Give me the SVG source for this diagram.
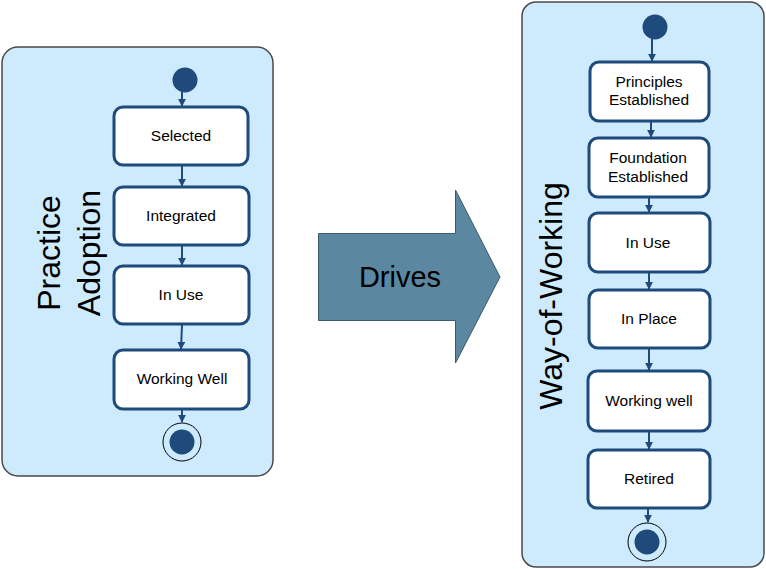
<svg xmlns="http://www.w3.org/2000/svg" width="766" height="569" viewBox="0 0 766 569">
<defs>
<style>
.cont{fill:#cdebfc;stroke:#4a4a4a;stroke-width:1.5}
.st{fill:#fff;stroke:#1f4a7c;stroke-width:3}
.lbl{font-family:"Liberation Sans",Arial,sans-serif;font-size:15.5px;fill:#000;text-anchor:middle}
.big{font-family:"Liberation Sans",Arial,sans-serif;font-size:32px;fill:#000;text-anchor:middle}
.dot{fill:#1f4a7c}
.ring{fill:none;stroke:#000;stroke-width:1}
.con{stroke:#1f4a7c;stroke-width:2;fill:none;marker-end:url(#ah)}
</style>
<marker id="ah" viewBox="0 0 10 10" refX="9" refY="5" markerWidth="4" markerHeight="4" orient="auto" markerUnits="strokeWidth">
<path d="M0,0 L10,5 L0,10 z" fill="#1f4a7c"/>
</marker>
</defs>
<g id="practice-adoption">
<rect class="cont" x="2" y="47" width="271" height="429" rx="16"/>
<text class="big" transform="translate(60,253) rotate(-90)">Practice</text>
<text class="big" transform="translate(100,253) rotate(-90)">Adoption</text>
</g>
<g id="way-of-working">
<rect class="cont" x="522" y="2" width="242" height="565" rx="14"/>
<text class="big" transform="translate(562,296) rotate(-90)">Way-of-Working</text>
</g>
<g id="drives">
<path d="M318.5,233.5 L455.5,233.5 L455.5,190 L500,277 L455.5,363 L455.5,320.5 L318.5,320.5 z" fill="#5b87a0" stroke="#3b5a6c" stroke-width="1"/>
<text x="400" y="287" font-family="Liberation Sans,Arial,sans-serif" font-size="29" text-anchor="middle" fill="#000">Drives</text>
</g>
<g id="pa-initial"><circle class="dot" cx="185" cy="80" r="12.5"/></g>
<g id="pa-selected"><rect class="st" x="114" y="107" width="134" height="58" rx="9"/><text class="lbl" x="181" y="141">Selected</text></g>
<g id="pa-integrated"><rect class="st" x="114" y="187" width="135" height="58" rx="9"/><text class="lbl" x="181" y="221">Integrated</text></g>
<g id="pa-inuse"><rect class="st" x="114" y="266" width="135" height="58" rx="9"/><text class="lbl" x="181" y="300">In Use</text></g>
<g id="pa-workingwell"><rect class="st" x="114" y="350" width="135" height="59" rx="9"/><text class="lbl" x="182" y="384">Working Well</text></g>
<g id="pa-final"><circle class="ring" cx="182" cy="442" r="19"/><circle class="dot" cx="182" cy="442" r="12.5"/></g>
<g id="wow-initial"><circle class="dot" cx="655" cy="27" r="12.5"/></g>
<g id="wow-principles"><rect class="st" x="590" y="62" width="119" height="59" rx="9"/><text class="lbl" x="649" y="87">Principles</text><text class="lbl" x="649" y="105">Established</text></g>
<g id="wow-foundation"><rect class="st" x="589" y="138" width="120" height="59" rx="9"/><text class="lbl" x="648" y="163">Foundation</text><text class="lbl" x="648" y="182">Established</text></g>
<g id="wow-inuse"><rect class="st" x="589" y="213" width="121" height="59" rx="9"/><text class="lbl" x="648" y="248">In Use</text></g>
<g id="wow-inplace"><rect class="st" x="589" y="290" width="121" height="58" rx="9"/><text class="lbl" x="649" y="324">In Place</text></g>
<g id="wow-workingwell"><rect class="st" x="588" y="371" width="122" height="60" rx="9"/><text class="lbl" x="649" y="406">Working well</text></g>
<g id="wow-retired"><rect class="st" x="588" y="450" width="122" height="58" rx="9"/><text class="lbl" x="649" y="484">Retired</text></g>
<g id="wow-final"><circle class="ring" cx="647" cy="542" r="19"/><circle class="dot" cx="647" cy="542" r="12.5"/></g>
<g id="connectors">
<line class="con" x1="182" y1="92" x2="182" y2="106"/>
<line class="con" x1="182" y1="166" x2="182" y2="186"/>
<line class="con" x1="182" y1="246" x2="182" y2="265"/>
<line class="con" x1="182" y1="325" x2="181" y2="349"/>
<line class="con" x1="182" y1="410" x2="182" y2="422"/>
<line class="con" x1="652" y1="39" x2="652" y2="61"/>
<line class="con" x1="651" y1="122" x2="651" y2="137"/>
<line class="con" x1="649" y1="198" x2="649" y2="212"/>
<line class="con" x1="649" y1="273" x2="649" y2="289"/>
<line class="con" x1="649" y1="349" x2="649" y2="370"/>
<line class="con" x1="649" y1="432" x2="649" y2="449"/>
<line class="con" x1="648" y1="509" x2="648" y2="522"/>
</g>
</svg>
